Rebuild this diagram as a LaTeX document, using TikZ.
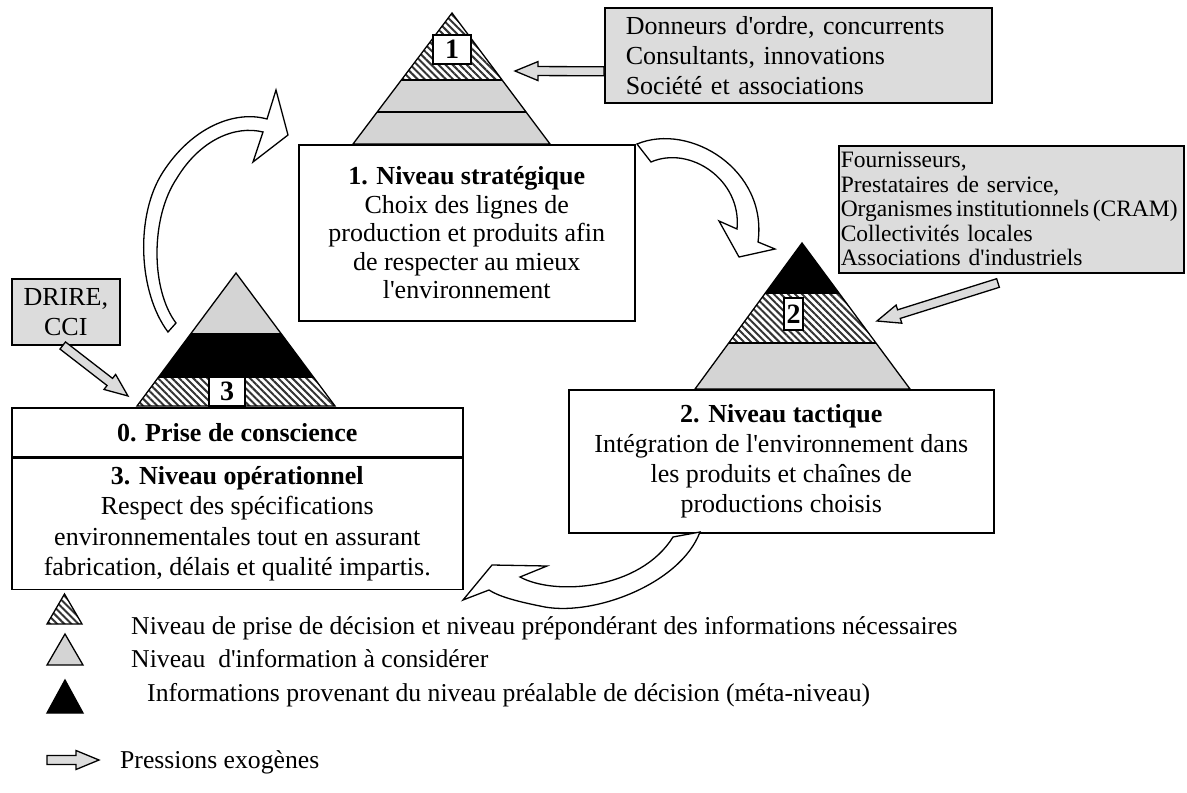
\documentclass[tikz,border=0pt]{standalone}
\usepackage{fontspec}
\setmainfont{Liberation Serif}[Ligatures=TeXOff]
\usetikzlibrary{calc,patterns.meta,positioning}
\definecolor{grisboite}{RGB}{220,220,220}
\definecolor{grispyr}{RGB}{212,212,212}
\tikzstyle{boite}=[draw, line width=1.5pt, fill=white, align=center,
  inner sep=2pt, font=\fontsize{26}{28.5}\selectfont]
\tikzstyle{acteurs}=[draw, line width=1.5pt, fill=grisboite, align=left,
  anchor=north west, font=\fontsize{26}{30}\selectfont]
\tikzstyle{numero}=[draw, line width=1.3pt, fill=white, inner sep=0pt,
  font=\fontsize{28}{28}\selectfont\bfseries]
\tikzstyle{pyr}=[draw, line width=1.3pt]
\tikzstyle{hachure}=[pattern={Lines[angle=-45,distance=5pt,line width=2pt]},
  pattern color=black!80]
\tikzstyle{pression}=[draw, line width=1.3pt, fill=grisboite]
\tikzstyle{courbe}=[draw, line width=1.3pt, fill=white]
\tikzstyle{legende}=[anchor=west, inner sep=0pt, font=\fontsize{25.7}{28}\selectfont]
% fleche de pression exogene : de #1 vers #2
\newcommand{\pousse}[2]{%
  \coordinate (pb) at ($(#2)!23pt!(#1)$);
  \path[pression] ($(#1)!4.5pt!90:(#2)$) -- ($(pb)!4.5pt!-90:(#1)$)
    -- ($(pb)!9.5pt!-90:(#1)$) -- (#2) -- ($(pb)!9.5pt!90:(#1)$)
    -- ($(pb)!4.5pt!90:(#1)$) -- ($(#1)!4.5pt!-90:(#2)$) -- cycle;}

\begin{document}
\begin{tikzpicture}[x=1pt,y=-1pt]
  \useasboundingbox (0,0) rectangle (1187,793);

  % niveaux
  \node[boite, anchor=north west, minimum width=336, minimum height=176]
    (strat) at (298,144) {\textbf{1. Niveau stratégique}\\Choix des lignes de\\
    production et produits afin\\de respecter au mieux\\l'environnement};
  \node[boite, anchor=north west, minimum width=425, minimum height=143,
    font=\fontsize{26}{30}\selectfont]
    (tact) at (568,389) {\textbf{2. Niveau tactique}\\Intégration de l'environnement dans\\
    les produits et chaînes de\\productions choisis};
  \node[boite, anchor=north west, minimum width=451, minimum height=49]
    (prise) at (11,407) {\textbf{0. Prise de conscience}};
  \node[boite, below=0pt of prise, minimum width=451, minimum height=131,
    font=\fontsize{26}{30.5}\selectfont]
    (oper) {\textbf{3. Niveau opérationnel}\\Respect des spécifications\\
    environnementales tout en assurant\\fabrication, délais et qualité impartis.};

  % acteurs exterieurs
  \node[acteurs, inner xsep=21pt, text width=345, minimum height=95]
    (donneurs) at (604,7) {Donneurs d'ordre, concurrents\\Consultants, innovations\\
    Société et associations};
  \node[acteurs, inner xsep=2pt, text width=341, minimum height=127,
    font=\fontsize{23.5}{24.5}\selectfont]
    (fourn) at (838,145) {Fournisseurs,\\Prestataires de service,\\
    \makebox[0pt][l]{\spaceskip=0.15em Organismes institutionnels (CRAM)}\\
    Collectivités locales\\Associations d'industriels};
  \node[acteurs, align=center, inner sep=0pt, minimum width=108, minimum height=66]
    (drire) at (11,278) {DRIRE,\\CCI};

  % pyramide 1
  \begin{scope}
    \clip (452,13) -- (353,144) -- (550,144) -- cycle;
    \fill[hachure] (353,13) rectangle (550,80);
    \fill[grispyr] (353,80) rectangle (550,144);
    \draw[pyr] (353,80) -- (550,80) (353,112) -- (550,112);
  \end{scope}
  \draw[pyr] (452,13) -- (353,144) -- (550,144) -- cycle;
  \node[numero, minimum width=38, minimum height=29] (n1) at (452,49.5) {1};

  % pyramide 2
  \begin{scope}
    \clip (802,243) -- (695,389) -- (910,389) -- cycle;
    \fill[black] (695,243) rectangle (910,293);
    \fill[hachure] (695,293) rectangle (910,343);
    \fill[grispyr] (695,343) rectangle (910,389);
    \draw[pyr] (695,293) -- (910,293) (695,343) -- (910,343);
  \end{scope}
  \draw[pyr] (802,243) -- (695,389) -- (910,389) -- cycle;
  \node[numero, minimum width=19, minimum height=32] (n2) at (793.5,314) {2};

  % pyramide 3
  \begin{scope}
    \clip (236,273) -- (137,406) -- (335,406) -- cycle;
    \fill[grispyr] (137,273) rectangle (335,334);
    \fill[black] (137,334) rectangle (335,377);
    \fill[hachure] (137,377) rectangle (335,406);
    \draw[pyr] (137,334) -- (335,334) (137,377) -- (335,377);
  \end{scope}
  \draw[pyr] (236,273) -- (137,406) -- (335,406) -- cycle;
  \node[numero, minimum width=36, minimum height=29] (n3) at (227,391.5) {3};

  % pressions exogenes
  \coordinate (dA) at ($(donneurs.west)+(0,16)$);
  \coordinate (fA) at (515,71);
  \pousse{dA}{fA}
  \coordinate (dB) at (998,283);
  \coordinate (fB) at (877,321);
  \pousse{dB}{fB}
  \coordinate (dC) at ($(drire.south)+(-3,0)$);
  \coordinate (fC) at (128,396);
  \pousse{dC}{fC}

  % fleches du cycle
  \path[courbe] (168,332) .. controls (138,292) and (135,215) .. (163,172)
    .. controls (192,127) and (235,110) .. (267,119) -- (276,90) -- (288,135)
    -- (253,162) -- (263,132) .. controls (235,125) and (200,140) .. (177,178)
    .. controls (150,218) and (151,290) .. (176,323) -- cycle;
  \path[courbe] (637,144) .. controls (690,122) and (768,170) .. (758,242)
    -- (775,249) -- (739,257) -- (719,221) -- (737,229)
    .. controls (742,180) and (690,145) .. (651,162) -- cycle;
  \path[courbe] (700,532) .. controls (680,585) and (590,618) .. (540,606)
    .. controls (515,601) and (498,596) .. (489,590) -- (463,600) -- (492,565)
    -- (547,566) -- (520,577) .. controls (555,596) and (640,590) .. (673,537)
    -- cycle;

  % legende
  \path[pyr, hachure] (47,624) -- (64.5,594) -- (82,624) -- cycle;
  \path[pyr, fill=grispyr] (47,665) -- (65,634) -- (83,665) -- cycle;
  \path[pyr, fill=black] (47,713) -- (65,680) -- (83,713) -- cycle;
  \coordinate (lA) at (47,760);
  \coordinate (lB) at (99,760);
  \pousse{lA}{lB}
  \node[legende] (leg1) at (131,628) {Niveau de prise de décision et niveau prépondérant des informations nécessaires};
  \node[legende] (leg2) at (131,659) {Niveau\ \ d'information à considérer};
  \node[legende] (leg3) at (147,695) {Informations provenant du niveau préalable de décision (méta-niveau)};
  \node[legende] (leg4) at (120,762) {Pressions exogènes};
\end{tikzpicture}
\end{document}
